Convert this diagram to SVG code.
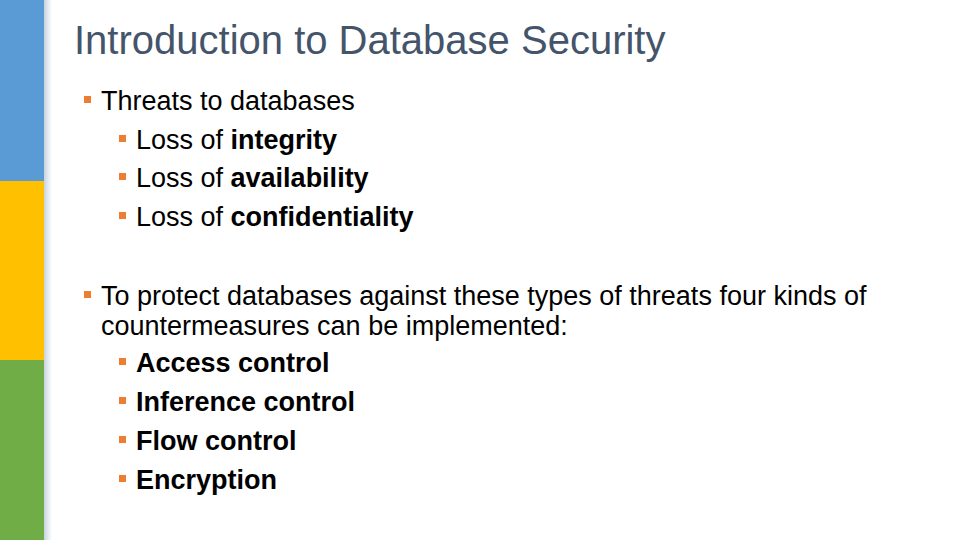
<svg xmlns="http://www.w3.org/2000/svg" width="960" height="540" viewBox="0 0 960 540">
<defs>
<linearGradient id="sh" x1="0" x2="1" y1="0" y2="0"><stop offset="0" stop-color="#c8d4e0"/><stop offset="1" stop-color="#fff"/></linearGradient>
<style>
text{font-family:"Liberation Sans",Arial,sans-serif;fill:#000}
.t{font-size:40px;fill:#44546a}
.l1{font-size:27px}
.l2{font-size:27px}
.b{fill:#ed7d31}
.k{font-weight:bold}
</style>
</defs>
<rect width="960" height="540" fill="#fff"/>
<rect x="44" y="0" width="8" height="540" fill="url(#sh)"/>
<rect x="0" y="0" width="44" height="181" fill="#5b9bd5"/>
<rect x="0" y="181" width="44" height="179" fill="#ffc000"/>
<rect x="0" y="360" width="44" height="180" fill="#70ad47"/>
<text class="t" x="74" y="54">Introduction to Database Security</text>
<g id="bullets">
<rect class="b" x="84" y="96" width="7" height="7"/>
<text class="l1" x="101" y="110">Threats to databases</text>
<rect class="b" x="119" y="135" width="7" height="7"/>
<text class="l2" x="136" y="149">Loss of <tspan class="k">integrity</tspan></text>
<rect class="b" x="119" y="173" width="7" height="7"/>
<text class="l2" x="136" y="187">Loss of <tspan class="k">availability</tspan></text>
<rect class="b" x="119" y="212" width="7" height="7"/>
<text class="l2" x="136" y="226">Loss of <tspan class="k">confidentiality</tspan></text>
<rect class="b" x="84" y="291" width="7" height="7"/>
<text class="l1" x="101" y="305">To protect databases against these types of threats four kinds of</text>
<text class="l1" x="101" y="335">countermeasures can be implemented:</text>
<rect class="b" x="119" y="358" width="7" height="7"/>
<text class="l2 k" x="136" y="372">Access control</text>
<rect class="b" x="119" y="397" width="7" height="7"/>
<text class="l2 k" x="136" y="411">Inference control</text>
<rect class="b" x="119" y="436" width="7" height="7"/>
<text class="l2 k" x="136" y="450">Flow control</text>
<rect class="b" x="119" y="475" width="7" height="7"/>
<text class="l2 k" x="136" y="489">Encryption</text>
</g>
</svg>
